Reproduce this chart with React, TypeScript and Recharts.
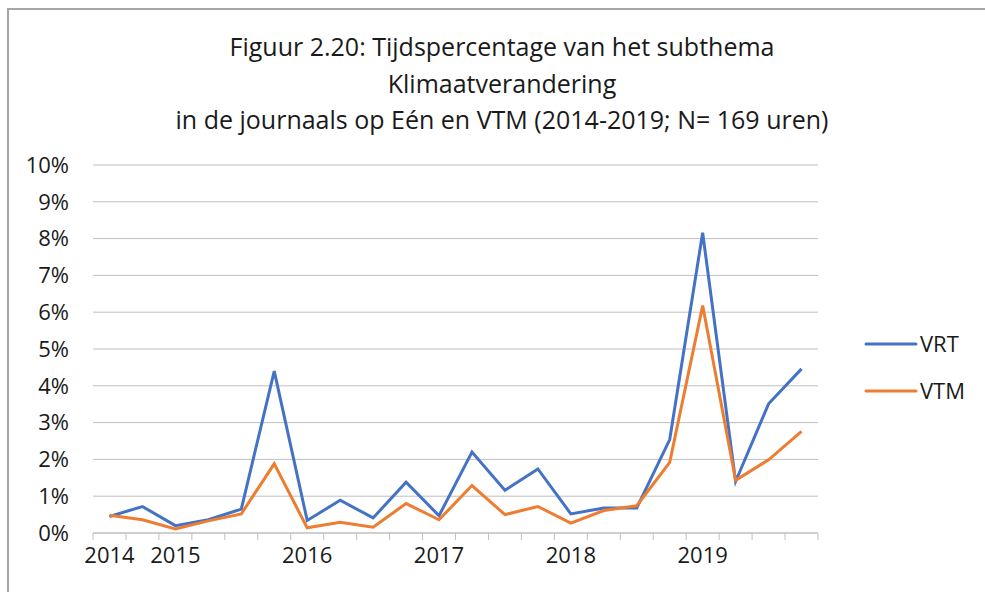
import React from "react";
import { LineChart, Line, XAxis, YAxis, CartesianGrid } from "recharts";

// 22 periods, year labels only on some of them
const periods = [
  "P1", "P2", "P3", "P4", "P5", "P6", "P7", "P8", "P9", "P10", "P11",
  "P12", "P13", "P14", "P15", "P16", "P17", "P18", "P19", "P20", "P21", "P22",
];
const yearLabels = [
  "2014", "", "2015", "", "", "", "2016", "", "", "", "2017",
  "", "", "", "2018", "", "", "", "2019", "", "", "",
];
const vrt = [0.45, 0.72, 0.2, 0.36, 0.65, 4.4, 0.34, 0.89, 0.41, 1.38, 0.47, 2.2, 1.16, 1.74, 0.52, 0.68, 0.68, 2.54, 8.16, 1.4, 3.51, 4.46];
const vtm = [0.48, 0.36, 0.11, 0.33, 0.52, 1.88, 0.14, 0.29, 0.16, 0.8, 0.36, 1.29, 0.5, 0.72, 0.27, 0.61, 0.74, 1.92, 6.18, 1.43, 1.99, 2.76];
const yTicks = [0, 1, 2, 3, 4, 5, 6, 7, 8, 9, 10];

const titleLines = [
  "Figuur 2.20: Tijdspercentage van het subthema",
  "Klimaatverandering",
  "in de journaals op Eén en VTM (2014-2019; N= 169 uren)",
];

const series = [
  { name: "VRT", color: "#4472C4" },
  { name: "VTM", color: "#ED7D31" },
];

const data = periods.map((p, i) => ({ period: p, VRT: vrt[i], VTM: vtm[i] }));

const W = 985;
const H = 592;
const PLOT_LEFT = 93;
const PLOT_RIGHT = 818;
const BAND = (PLOT_RIGHT - PLOT_LEFT) / periods.length;
const FONT = "'Open Sans', sans-serif";
const AXIS_COLOR = "#bfbfbf";
const BORDER_COLOR = "#a6a6a6";
const TEXT_COLOR = "#1a1a1a";

function XTick(props: any) {
  const { x, y, index } = props;
  const left = x - BAND / 2;
  const label = yearLabels[index];
  return (
    <g>
      <line x1={left} x2={left} y1={y} y2={y + 7} stroke={AXIS_COLOR} strokeWidth={1} />
      {index === periods.length - 1 && (
        <line x1={x + BAND / 2} x2={x + BAND / 2} y1={y} y2={y + 7} stroke={AXIS_COLOR} strokeWidth={1} />
      )}
      {label && (
        <text x={x} y={y + 30} textAnchor="middle" fontSize={22} fontFamily={FONT} fill={TEXT_COLOR}>
          {label}
        </text>
      )}
    </g>
  );
}

export default function App() {
  return (
    <div style={{ position: "fixed", left: 0, top: 0, width: W, height: H, overflow: "hidden", background: "#fff" }}>
      <div
        style={{
          position: "absolute",
          left: 0,
          top: 28,
          width: 1004,
          textAlign: "center",
          fontFamily: FONT,
          fontSize: 25,
          lineHeight: "36.5px",
          color: TEXT_COLOR,
        }}
      >
        {titleLines.map((t) => (
          <div key={t}>{t}</div>
        ))}
      </div>
      <div style={{ position: "absolute", left: 0, top: 0 }}>
        <LineChart width={W} height={H} data={data} margin={{ top: 165, right: W - PLOT_RIGHT, bottom: 0, left: 20 }}>
          <CartesianGrid vertical={false} stroke={AXIS_COLOR} />
          <XAxis
            dataKey="period"
            interval={0}
            height={59}
            padding={{ left: BAND / 2, right: BAND / 2 }}
            tickSize={0}
            tickMargin={0}
            tickLine={false}
            axisLine={{ stroke: AXIS_COLOR }}
            tick={<XTick />}
          />
          <YAxis
            width={73}
            domain={[0, 10]}
            ticks={yTicks}
            interval={0}
            tickSize={0}
            tickMargin={24}
            axisLine={false}
            tickLine={false}
            tickFormatter={(v: number) => `${v}%`}
            tick={{ fontSize: 22, fontFamily: FONT, fill: TEXT_COLOR }}
          />
          {series.map((s) => (
            <Line
              key={s.name}
              type="linear"
              dataKey={s.name}
              stroke={s.color}
              strokeWidth={3}
              dot={false}
              isAnimationActive={false}
            />
          ))}
        </LineChart>
      </div>
      <div style={{ position: "absolute", left: 863, top: 325 }}>
        <svg width={120} height={100}>
          {series.map((it, i) => (
            <g key={it.name} transform={`translate(0, ${i * 47})`}>
              <line x1={3} x2={53} y1={19} y2={19} stroke={it.color} strokeWidth={3} strokeLinecap="round" />
              <text x={57} y={19} dy="0.35em" fontSize={22} fontFamily={FONT} fill={TEXT_COLOR}>
                {it.name}
              </text>
            </g>
          ))}
        </svg>
      </div>
      {/* chart frame: only the left and top edges fall inside the picture */}
      <div style={{ position: "absolute", left: 7, top: 8, width: 2, height: H, background: BORDER_COLOR }} />
      <div style={{ position: "absolute", left: 7, top: 8, width: W, height: 2, background: BORDER_COLOR }} />
    </div>
  );
}
